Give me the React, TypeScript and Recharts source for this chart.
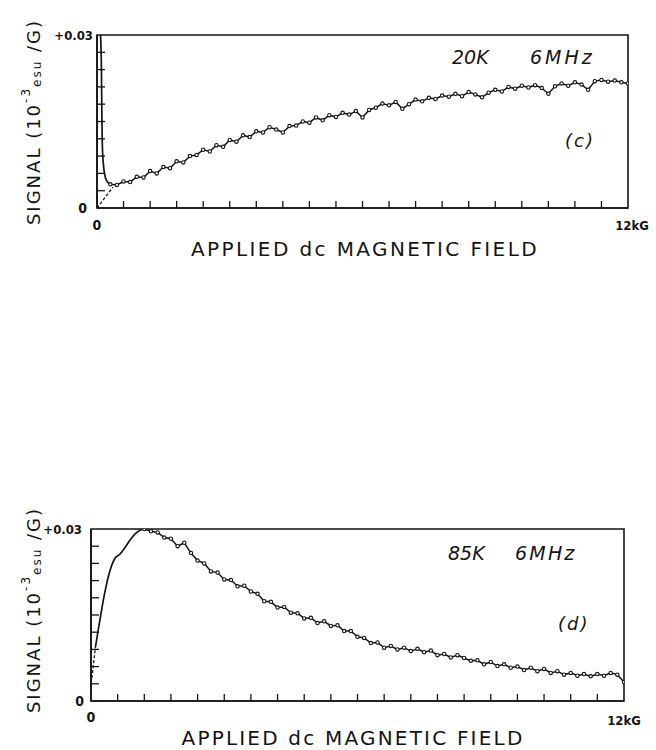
import React from 'react';
import { LineChart, Line, XAxis, YAxis, ReferenceArea } from 'recharts';

// ---------- shared axis ticks ----------
const X_TICKS = [0, 0.6, 1.2, 1.8, 2.4, 3, 3.6, 4.2, 4.8, 5.4, 6, 6.6, 7.2, 7.8, 8.4, 9, 9.6, 10.2, 10.8, 11.4, 12];
const Y_TICKS = [0, 0.003, 0.006, 0.009, 0.012, 0.015, 0.018, 0.021, 0.024, 0.027, 0.03];
const X_LABEL_ZERO = '0';
const X_LABEL_END = '12kG';
const Y_LABEL_ZERO = '0';
const Y_LABEL_TOP = '+0.03';

// ---------- panel (c): 20K 6MHz ----------
const cHeadField = [0.08, 0.1, 0.11, 0.12, 0.14, 0.17, 0.22, 0.3];
const cHeadSignal = [0.03, 0.024, 0.016, 0.011, 0.008, 0.006, 0.0047, 0.0041];
const cDashField = [0, 0.36];
const cDashSignal = [0, 0.0036];
const cTraceStart = 0.3;
const cTraceStep = 0.15;
const cTraceSignal = [
  0.0041, 0.004, 0.0046, 0.0045, 0.0054, 0.0053, 0.0064, 0.006, 0.0071, 0.0069,
  0.0081, 0.0079, 0.009, 0.0092, 0.0101, 0.0098, 0.0109, 0.0106, 0.0118, 0.0115,
  0.0126, 0.0123, 0.0133, 0.0131, 0.014, 0.0136, 0.0131, 0.0142, 0.0143, 0.015,
  0.0148, 0.0157, 0.0152, 0.0161, 0.0158, 0.0165, 0.0162, 0.0168, 0.0157, 0.017,
  0.0174, 0.0181, 0.0178, 0.0184, 0.0172, 0.018, 0.0188, 0.0185, 0.0191, 0.0189,
  0.0195, 0.0193, 0.0198, 0.0194, 0.0201, 0.0197, 0.0192, 0.02, 0.0205, 0.0202,
  0.021, 0.0207, 0.0212, 0.0209, 0.0213, 0.0208, 0.0198, 0.0211, 0.0216, 0.0212,
  0.0218, 0.0214, 0.0205, 0.022, 0.0222, 0.0219, 0.0221, 0.0218, 0.0216,
];
const cTemp = '20K';
const cFreq = '6MHz';
const cTag = '(c)';

// ---------- panel (d): 85K 6MHz ----------
const dDashField = [0.02, 0.1];
const dDashSignal = [0.004, 0.0094];
const dHeadField = [0.1, 0.15, 0.2, 0.3, 0.43, 0.54, 0.65, 0.75, 0.88, 1.0, 1.1, 1.2];
const dHeadSignal = [0.0094, 0.0118, 0.0141, 0.0185, 0.0228, 0.0249, 0.0256, 0.0266, 0.0281, 0.0292, 0.0298, 0.03];
const dTraceStart = 1.2;
const dTraceStep = 0.15;
const dTraceSignal = [
  0.03, 0.0296, 0.0294, 0.0285, 0.0283, 0.027, 0.0276, 0.0258, 0.0245, 0.024,
  0.0226, 0.0224, 0.0212, 0.0211, 0.02, 0.0201, 0.0191, 0.0187, 0.0174, 0.0173,
  0.0163, 0.0164, 0.0154, 0.0153, 0.0144, 0.0145, 0.0136, 0.0139, 0.0131, 0.0132,
  0.0122, 0.0122, 0.0112, 0.011, 0.0101, 0.0102, 0.0093, 0.0096, 0.009, 0.0093,
  0.0087, 0.0091, 0.0085, 0.0088, 0.008, 0.0082, 0.0076, 0.008, 0.0075, 0.007,
  0.0071, 0.0064, 0.0068, 0.0061, 0.0064, 0.0058, 0.006, 0.0054, 0.0058, 0.0052,
  0.0056, 0.0049, 0.0052, 0.0046, 0.0049, 0.0044, 0.0047, 0.0043, 0.0047, 0.0044,
  0.0049, 0.0046, 0.0033,
];
const dTemp = '85K';
const dFreq = '6MHz';
const dTag = '(d)';

const X_TITLE = 'APPLIED dc MAGNETIC FIELD';

const zip = (xs: number[], ys: number[]) => xs.map((f, i) => ({ field: f, signal: ys[i] }));
const grid = (start: number, step: number, ys: number[]) =>
  ys.map((s, i) => ({ field: +(start + i * step).toFixed(2), signal: s }));

const INK = '#141414';
const TICK_FONT = "'Liberation Sans Narrow', 'DejaVu Sans Condensed', 'Liberation Sans', sans-serif";
const TITLE_FONT = "'DejaVu Sans', 'Liberation Sans', sans-serif";

function XTick(props: any) {
  const { x, y, payload, zeroDy, endDx, endDy } = props;
  const v = payload.value;
  return (
    <g>
      {v > 0 && v < 12 && <line x1={x} x2={x} y1={y} y2={y - 7} stroke={INK} strokeWidth={1.3} />}
      {v === 0 && (
        <text x={x} y={y + zeroDy} textAnchor="middle" dominantBaseline="central" fontSize={14} fontWeight="bold" fontFamily={TICK_FONT} fill={INK}>
          {X_LABEL_ZERO}
        </text>
      )}
      {v === 12 && (
        <text x={x + endDx} y={y + endDy} textAnchor="middle" dominantBaseline="central" fontSize={13} fontWeight="bold" fontFamily={TICK_FONT} fill={INK}>
          {X_LABEL_END}
        </text>
      )}
    </g>
  );
}

function YTick(props: any) {
  const { x, y, payload, zeroDx, topDx } = props;
  const v = payload.value;
  return (
    <g>
      {v > 0 && v < 0.029 && <line x1={x} x2={x + 8} y1={y} y2={y} stroke={INK} strokeWidth={1.3} />}
      {v === 0 && (
        <text x={x - zeroDx} y={y} textAnchor="end" dominantBaseline="central" fontSize={14} fontWeight="bold" fontFamily={TICK_FONT} fill={INK}>
          {Y_LABEL_ZERO}
        </text>
      )}
      {v > 0.029 && (
        <text x={x - topDx} y={y} textAnchor="end" dominantBaseline="central" fontSize={13} fontWeight="bold" fontFamily={TICK_FONT} fill={INK}>
          {Y_LABEL_TOP}
        </text>
      )}
    </g>
  );
}

const beadDot = { r: 1.7, fill: '#ffffff', stroke: INK, strokeWidth: 1.1 };

function Panel(props: any) {
  const { top, height, margin, head, dash, trace, tickCfg } = props;
  return (
    <div style={{ position: 'absolute', left: 0, top, width: 656, height }}>
      <LineChart width={656} height={height} margin={margin}>
        <XAxis
          dataKey="field"
          type="number"
          domain={[0, 12]}
          ticks={X_TICKS}
          interval={0}
          allowDataOverflow
          height={20}
          tickSize={0}
          tickMargin={0}
          tickLine={false}
          axisLine={{ stroke: INK, strokeWidth: 1.6 }}
          tick={<XTick zeroDy={tickCfg.zeroDy} endDx={tickCfg.endDx} endDy={tickCfg.endDy} />}
        />
        <YAxis
          type="number"
          domain={[0, 0.03]}
          ticks={Y_TICKS}
          interval={0}
          allowDataOverflow
          width={20}
          tickSize={0}
          tickMargin={0}
          tickLine={false}
          axisLine={{ stroke: INK, strokeWidth: 1.6 }}
          tick={<YTick zeroDx={tickCfg.zeroDx} topDx={tickCfg.topDx} />}
        />
        <ReferenceArea x1={0} x2={12} y1={0} y2={0.03} fill="none" stroke={INK} strokeWidth={1.6} ifOverflow="visible" />
        <Line data={dash} dataKey="signal" type="linear" stroke={INK} strokeWidth={1.3} strokeDasharray="3 2" dot={false} isAnimationActive={false} />
        <Line data={head} dataKey="signal" type="monotone" stroke={INK} strokeWidth={1.7} dot={false} isAnimationActive={false} />
        <Line data={trace} dataKey="signal" type="linear" stroke={INK} strokeWidth={1.5} dot={beadDot} isAnimationActive={false} />
      </LineChart>
    </div>
  );
}

const annStyle = { fontFamily: TITLE_FONT, fontStyle: 'italic' as const, fill: INK };

export default function App() {
  return (
    <div style={{ position: 'absolute', left: 0, top: 0, width: 656, height: 750, background: '#ffffff', overflow: 'hidden' }}>
      <Panel
        top={0}
        height={270}
        margin={{ top: 35, right: 28, bottom: 42, left: 77 }}
        head={zip(cHeadField, cHeadSignal)}
        dash={zip(cDashField, cDashSignal)}
        trace={grid(cTraceStart, cTraceStep, cTraceSignal)}
        tickCfg={{ zeroDy: 17, endDx: 4, endDy: 17, zeroDx: 10, topDx: 4 }}
      />
      <Panel
        top={490}
        height={260}
        margin={{ top: 39, right: 32, bottom: 29, left: 71 }}
        head={zip(dHeadField, dHeadSignal)}
        dash={zip(dDashField, dDashSignal)}
        trace={grid(dTraceStart, dTraceStep, dTraceSignal)}
        tickCfg={{ zeroDy: 16, endDx: 0, endDy: 19, zeroDx: 7, topDx: 9 }}
      />
      <svg width={656} height={750} style={{ position: 'absolute', left: 0, top: 0, pointerEvents: 'none' }}>
        {/* panel c annotations */}
        <text x={452} y={57} fontSize={19} dominantBaseline="central" style={annStyle}>{cTemp}</text>
        <text x={530} y={57} fontSize={19} letterSpacing={3} dominantBaseline="central" style={annStyle}>{cFreq}</text>
        <text x={565} y={140} fontSize={18} letterSpacing={2} dominantBaseline="central" style={annStyle}>{cTag}</text>
        {/* panel d annotations */}
        <text x={448} y={553} fontSize={19} dominantBaseline="central" style={annStyle}>{dTemp}</text>
        <text x={515} y={553} fontSize={19} letterSpacing={2.2} dominantBaseline="central" style={annStyle}>{dFreq}</text>
        <text x={558} y={623} fontSize={18} letterSpacing={2} dominantBaseline="central" style={annStyle}>{dTag}</text>

        {/* x titles */}
        <text x={365} y={249} textAnchor="middle" dominantBaseline="central" fontSize={20} letterSpacing={2.4} fontFamily={TITLE_FONT} fill={INK}>{X_TITLE}</text>
        <text x={353} y={738} textAnchor="middle" dominantBaseline="central" fontSize={20} letterSpacing={2.2} fontFamily={TITLE_FONT} fill={INK}>{X_TITLE}</text>

        {/* y titles */}
        {[{ cx: 33, cy: 122 }, { cx: 33, cy: 610 }].map((p, i) => (
          <text key={i} transform={`translate(${p.cx},${p.cy}) rotate(-90)`} textAnchor="middle" dominantBaseline="central" fontSize={18} letterSpacing={2} fontFamily={TITLE_FONT} fill={INK}>
            SIGNAL (10
            <tspan dy={-7} fontSize={12}>-3</tspan>
            <tspan dy={11} fontSize={12}>esu</tspan>
            <tspan dy={-4}> /G)</tspan>
          </text>
        ))}
      </svg>
    </div>
  );
}
